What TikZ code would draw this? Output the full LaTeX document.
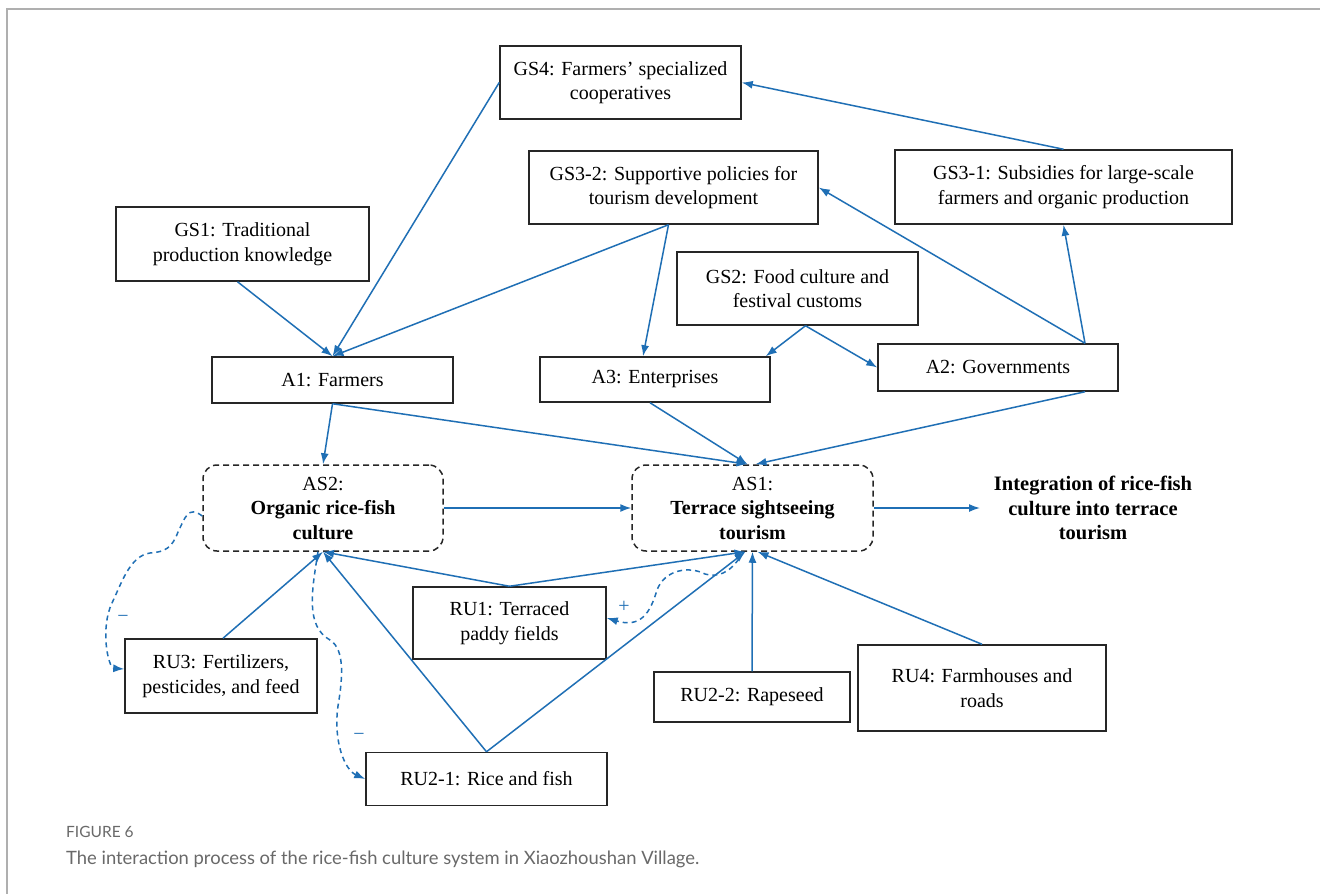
\documentclass[tikz,border=0pt]{standalone}
\usepackage{fontspec}
\setmainfont{Liberation Serif}
\newfontfamily\capfont{Lato}
\usetikzlibrary{arrows.meta,calc}
\definecolor{arr}{RGB}{31,111,181}
\definecolor{framegrey}{RGB}{175,175,175}
\definecolor{capgrey}{RGB}{105,105,105}
\begin{document}
\begin{tikzpicture}[x=1pt,y=-1pt,
  box/.style={draw=black!85, line width=1.5pt, inner sep=2pt, align=center, text=black, font=\fontsize{20}{24.5}\selectfont},
  asbox/.style={draw=black!85, line width=1.5pt, dash pattern=on 6pt off 4pt, rounded corners=14pt, inner sep=2pt, align=center, text=black, font=\fontsize{20}{24.5}\selectfont},
  link/.style={draw=arr, line width=1.5pt, -{Latex[length=11pt,width=8pt]}},
  dlink/.style={draw=arr, line width=1.5pt, dash pattern=on 5pt off 4pt, -{Latex[length=11pt,width=8pt]}},
  sign/.style={text=arr, font=\fontsize{20}{20}\selectfont, inner sep=0pt},
  boldtext/.style={align=center, font=\fontsize{20.5}{24.5}\selectfont\bfseries, inner sep=0pt}]
\useasboundingbox (0,0) rectangle (1320,894);
\fill[white] (0,0) rectangle (1320,894);
\draw[framegrey, line width=1.6pt] (7,894) -- (7,9) -- (1320,9);

% nodes
\node[box, minimum width=241pt, minimum height=73pt] (GS4) at (620.5,82.5) {GS4: Farmers’ specialized\\cooperatives};
\node[box, minimum width=289pt, minimum height=73pt] (GS32) at (673.5,187.5) {GS3-2: Supportive policies for\\tourism development};
\node[box, minimum width=337pt, minimum height=74pt] (GS31) at (1063.5,187) {GS3-1: Subsidies for large-scale\\farmers and organic production};
\node[box, minimum width=253pt, minimum height=74pt] (GS1) at (242.5,244) {GS1: Traditional\\production knowledge};
\node[box, minimum width=241pt, minimum height=73pt] (GS2) at (797.5,288.5) {GS2: Food culture and\\festival customs};
\node[box, minimum width=241pt, minimum height=46pt] (A1) at (332.5,380) {A1: Farmers};
\node[box, minimum width=230pt, minimum height=45pt] (A3) at (655,379.5) {A3: Enterprises};
\node[box, minimum width=240pt, minimum height=47pt] (A2) at (998,367.5) {A2: Governments};
\node[asbox, minimum width=240pt, minimum height=86pt] (AS2) at (323,508) {AS2:\\\textbf{Organic rice-fish}\\\textbf{culture}};
\node[asbox, minimum width=241pt, minimum height=86pt] (AS1) at (752.5,508) {AS1:\\\textbf{Terrace sightseeing}\\\textbf{tourism}};
\node[boldtext] (INT) at (1093,508) {Integration of rice-fish\\culture into terrace\\tourism};
\node[box, minimum width=193pt, minimum height=72pt] (RU1) at (509.5,623) {RU1: Terraced\\paddy fields};
\node[box, minimum width=192pt, minimum height=74pt] (RU3) at (221,676) {RU3: Fertilizers,\\pesticides, and feed};
\node[box, minimum width=196pt, minimum height=50pt] (RU22) at (752,697) {RU2-2: Rapeseed};
\node[box, minimum width=248pt, minimum height=86pt] (RU4) at (982,688) {RU4: Farmhouses and\\roads};
\node[box, minimum width=241pt, minimum height=53pt] (RU21) at (486.5,779) {RU2-1: Rice and fish};
\coordinate (INTin) at (980,508);

% caption
\node[anchor=base west, inner sep=0pt, text=capgrey, font=\capfont\fontsize{15.5}{15.5}\selectfont] (FIG) at (66,837) {FIGURE 6};
\node[anchor=base west, inner sep=0pt, text=capgrey, font=\capfont\fontsize{18.4}{18.4}\selectfont] (CAP) at (66,864) {The interaction process of the rice-fish culture system in Xiaozhoushan Village.};

% solid links
\draw[link] (GS31.north) -- (GS4.east);
\draw[link] (GS4.west) -- (A1.north);
\draw[link] ([xshift=-5pt]GS1.south) -- (A1.north);
\draw[link] ([xshift=-5pt]GS32.south) -- (A1.north);
\draw[link] ([xshift=-5pt]GS32.south) -- ([xshift=-12pt]A3.north);
\draw[link] ([xshift=8pt]GS2.south) -- ([xshift=-5pt]A3.north east);
\draw[link] ([xshift=8pt]GS2.south) -- (A2.west);
\draw[link] ([xshift=87pt]A2.north) -- (GS31.south);
\draw[link] ([xshift=87pt]A2.north) -- (GS32.east);
\draw[link] (A1.south) -- (AS2.north);
\draw[link] (A1.south) -- ([xshift=-5pt]AS1.north);
\draw[link] ([xshift=-5pt]A3.south) -- ([xshift=-5pt]AS1.north);
\draw[link] ([xshift=87pt]A2.south) -- ([xshift=3pt]AS1.north);
\draw[link] (AS2.east) -- (AS1.west);
\draw[link] (AS1.east) -- (INTin);
\draw[link] ([xshift=2pt]RU3.north) -- (AS2.south);
\draw[link] (RU1.north) -- (AS2.south);
\draw[link] (RU1.north) -- ([xshift=-7pt]AS1.south);
\draw[link] (RU21.north) -- (AS2.south);
\draw[link] (RU21.north) -- ([xshift=-7pt]AS1.south);
\draw[link] (RU22.north) -- ([xshift=0pt]AS1.south);
\draw[link] (RU4.north) -- ([xshift=5pt]AS1.south);

% dashed feedback links
\draw[dlink] ([yshift=-8pt]AS2.west) .. controls (188,505) and (185,518) .. (178,532)
  .. controls (172,548) and (165,552) .. (150,553)
  .. controls (130,556) and (122,582) .. (112,603)
  .. controls (100,628) and (108,668) .. ([yshift=7pt]RU3.west);
\draw[dlink] ([xshift=-5pt]AS2.south) .. controls (312,590) and (305,626) .. (330,640)
  .. controls (346,650) and (342,682) .. (338,706)
  .. controls (333,742) and (345,770) .. (RU21.west);
\draw[dlink] ([xshift=-9pt]AS1.south) .. controls (735,566) and (724,579) .. (705,574)
  .. controls (690,566) and (665,569) .. (657,590)
  .. controls (650,614) and (640,628) .. ([yshift=5pt]RU1.east);
\node[sign] (m1) at (123,619) {−};
\node[sign] (m2) at (359,737) {−};
\node[sign] (p1) at (624,607) {+};
\end{tikzpicture}
\end{document}
